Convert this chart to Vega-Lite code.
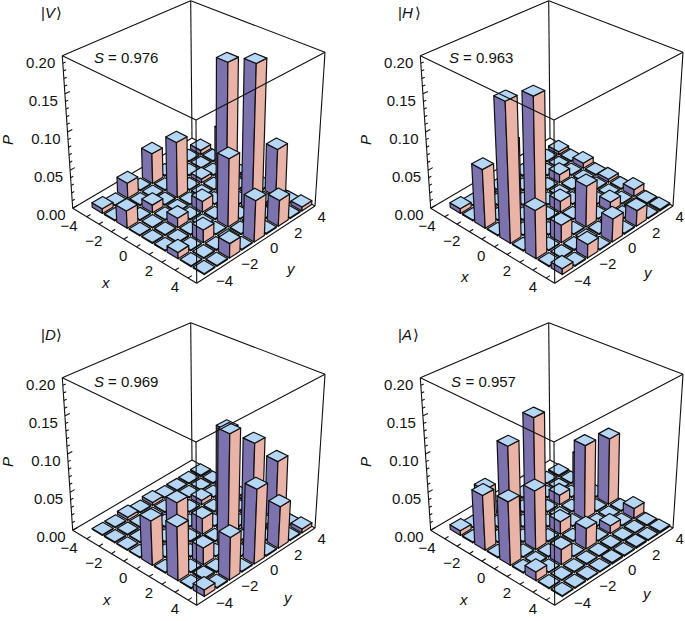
{"$schema":"https://vega.github.io/schema/vega-lite/v6.json","width":685,"height":621,"padding":0,"autosize":{"type":"none"},"background":"white","view":{"stroke":null},
"config":{"text":{"font":"Liberation Sans","fontSize":15,"color":"#111111"}},
"datasets":{
"bars":[
{"panel":"V","x":-4,"y":4,"p":0.006},{"panel":"V","x":-4,"y":3,"p":0.001},{"panel":"V","x":-4,"y":2,"p":0.001},{"panel":"V","x":-4,"y":1,"p":0.001},{"panel":"V","x":-4,"y":0,"p":0.04},{"panel":"V","x":-4,"y":-1,"p":0.001},{"panel":"V","x":-4,"y":-2,"p":0.02},{"panel":"V","x":-4,"y":-3,"p":0.001},{"panel":"V","x":-4,"y":-4,"p":0.006},
{"panel":"V","x":-3,"y":4,"p":0.001},{"panel":"V","x":-3,"y":3,"p":0.001},{"panel":"V","x":-3,"y":2,"p":0.001},{"panel":"V","x":-3,"y":1,"p":0.001},{"panel":"V","x":-3,"y":0,"p":0.001},{"panel":"V","x":-3,"y":-1,"p":0.001},{"panel":"V","x":-3,"y":-2,"p":0.001},{"panel":"V","x":-3,"y":-3,"p":0.001},{"panel":"V","x":-3,"y":-4,"p":0.001},
{"panel":"V","x":-2,"y":4,"p":0.05},{"panel":"V","x":-2,"y":3,"p":0.001},{"panel":"V","x":-2,"y":2,"p":0.005},{"panel":"V","x":-2,"y":1,"p":0.001},{"panel":"V","x":-2,"y":0,"p":0.073},{"panel":"V","x":-2,"y":-1,"p":0.001},{"panel":"V","x":-2,"y":-2,"p":0.01},{"panel":"V","x":-2,"y":-3,"p":0.001},{"panel":"V","x":-2,"y":-4,"p":0.022},
{"panel":"V","x":-1,"y":4,"p":0.001},{"panel":"V","x":-1,"y":3,"p":0.001},{"panel":"V","x":-1,"y":2,"p":0.001},{"panel":"V","x":-1,"y":1,"p":0.001},{"panel":"V","x":-1,"y":0,"p":0.001},{"panel":"V","x":-1,"y":-1,"p":0.001},{"panel":"V","x":-1,"y":-2,"p":0.001},{"panel":"V","x":-1,"y":-3,"p":0.001},{"panel":"V","x":-1,"y":-4,"p":0.001},
{"panel":"V","x":0,"y":4,"p":0.004},{"panel":"V","x":0,"y":3,"p":0.001},{"panel":"V","x":0,"y":2,"p":0.178},{"panel":"V","x":0,"y":1,"p":0.001},{"panel":"V","x":0,"y":0,"p":0.014},{"panel":"V","x":0,"y":-1,"p":0.001},{"panel":"V","x":0,"y":-2,"p":0.012},{"panel":"V","x":0,"y":-3,"p":0.001},{"panel":"V","x":0,"y":-4,"p":0.001},
{"panel":"V","x":1,"y":4,"p":0.001},{"panel":"V","x":1,"y":3,"p":0.001},{"panel":"V","x":1,"y":2,"p":0.001},{"panel":"V","x":1,"y":1,"p":0.001},{"panel":"V","x":1,"y":0,"p":0.001},{"panel":"V","x":1,"y":-1,"p":0.001},{"panel":"V","x":1,"y":-2,"p":0.001},{"panel":"V","x":1,"y":-3,"p":0.001},{"panel":"V","x":1,"y":-4,"p":0.001},
{"panel":"V","x":2,"y":4,"p":0.062},{"panel":"V","x":2,"y":3,"p":0.001},{"panel":"V","x":2,"y":2,"p":0.192},{"panel":"V","x":2,"y":1,"p":0.001},{"panel":"V","x":2,"y":0,"p":0.087},{"panel":"V","x":2,"y":-1,"p":0.001},{"panel":"V","x":2,"y":-2,"p":0.016},{"panel":"V","x":2,"y":-3,"p":0.001},{"panel":"V","x":2,"y":-4,"p":0.008},
{"panel":"V","x":3,"y":4,"p":0.001},{"panel":"V","x":3,"y":3,"p":0.001},{"panel":"V","x":3,"y":2,"p":0.001},{"panel":"V","x":3,"y":1,"p":0.001},{"panel":"V","x":3,"y":0,"p":0.001},{"panel":"V","x":3,"y":-1,"p":0.001},{"panel":"V","x":3,"y":-2,"p":0.001},{"panel":"V","x":3,"y":-3,"p":0.001},{"panel":"V","x":3,"y":-4,"p":0.001},
{"panel":"V","x":4,"y":4,"p":0.005},{"panel":"V","x":4,"y":3,"p":0.001},{"panel":"V","x":4,"y":2,"p":0.033},{"panel":"V","x":4,"y":1,"p":0.001},{"panel":"V","x":4,"y":0,"p":0.052},{"panel":"V","x":4,"y":-1,"p":0.001},{"panel":"V","x":4,"y":-2,"p":0.018},{"panel":"V","x":4,"y":-3,"p":0.001},{"panel":"V","x":4,"y":-4,"p":0.001},
{"panel":"H","x":-4,"y":4,"p":0.004},{"panel":"H","x":-4,"y":3,"p":0.001},{"panel":"H","x":-4,"y":2,"p":0.001},{"panel":"H","x":-4,"y":1,"p":0.001},{"panel":"H","x":-4,"y":0,"p":0.001},{"panel":"H","x":-4,"y":-1,"p":0.001},{"panel":"H","x":-4,"y":-2,"p":0.001},{"panel":"H","x":-4,"y":-3,"p":0.001},{"panel":"H","x":-4,"y":-4,"p":0.006},
{"panel":"H","x":-3,"y":4,"p":0.001},{"panel":"H","x":-3,"y":3,"p":0.001},{"panel":"H","x":-3,"y":2,"p":0.001},{"panel":"H","x":-3,"y":1,"p":0.001},{"panel":"H","x":-3,"y":0,"p":0.001},{"panel":"H","x":-3,"y":-1,"p":0.001},{"panel":"H","x":-3,"y":-2,"p":0.001},{"panel":"H","x":-3,"y":-3,"p":0.001},{"panel":"H","x":-3,"y":-4,"p":0.001},
{"panel":"H","x":-2,"y":4,"p":0.007},{"panel":"H","x":-2,"y":3,"p":0.001},{"panel":"H","x":-2,"y":2,"p":0.011},{"panel":"H","x":-2,"y":1,"p":0.001},{"panel":"H","x":-2,"y":0,"p":0.001},{"panel":"H","x":-2,"y":-1,"p":0.001},{"panel":"H","x":-2,"y":-2,"p":0.09},{"panel":"H","x":-2,"y":-3,"p":0.001},{"panel":"H","x":-2,"y":-4,"p":0.075},
{"panel":"H","x":-1,"y":4,"p":0.001},{"panel":"H","x":-1,"y":3,"p":0.001},{"panel":"H","x":-1,"y":2,"p":0.001},{"panel":"H","x":-1,"y":1,"p":0.001},{"panel":"H","x":-1,"y":0,"p":0.001},{"panel":"H","x":-1,"y":-1,"p":0.001},{"panel":"H","x":-1,"y":-2,"p":0.001},{"panel":"H","x":-1,"y":-3,"p":0.001},{"panel":"H","x":-1,"y":-4,"p":0.001},
{"panel":"H","x":0,"y":4,"p":0.004},{"panel":"H","x":0,"y":3,"p":0.001},{"panel":"H","x":0,"y":2,"p":0.001},{"panel":"H","x":0,"y":1,"p":0.001},{"panel":"H","x":0,"y":0,"p":0.014},{"panel":"H","x":0,"y":-1,"p":0.001},{"panel":"H","x":0,"y":-2,"p":0.168},{"panel":"H","x":0,"y":-3,"p":0.001},{"panel":"H","x":0,"y":-4,"p":0.179},
{"panel":"H","x":1,"y":4,"p":0.001},{"panel":"H","x":1,"y":3,"p":0.001},{"panel":"H","x":1,"y":2,"p":0.001},{"panel":"H","x":1,"y":1,"p":0.001},{"panel":"H","x":1,"y":0,"p":0.001},{"panel":"H","x":1,"y":-1,"p":0.001},{"panel":"H","x":1,"y":-2,"p":0.001},{"panel":"H","x":1,"y":-3,"p":0.001},{"panel":"H","x":1,"y":-4,"p":0.001},
{"panel":"H","x":2,"y":4,"p":0.009},{"panel":"H","x":2,"y":3,"p":0.001},{"panel":"H","x":2,"y":2,"p":0.012},{"panel":"H","x":2,"y":1,"p":0.001},{"panel":"H","x":2,"y":0,"p":0.052},{"panel":"H","x":2,"y":-1,"p":0.001},{"panel":"H","x":2,"y":-2,"p":0.022},{"panel":"H","x":2,"y":-3,"p":0.001},{"panel":"H","x":2,"y":-4,"p":0.06},
{"panel":"H","x":3,"y":4,"p":0.001},{"panel":"H","x":3,"y":3,"p":0.001},{"panel":"H","x":3,"y":2,"p":0.001},{"panel":"H","x":3,"y":1,"p":0.001},{"panel":"H","x":3,"y":0,"p":0.001},{"panel":"H","x":3,"y":-1,"p":0.001},{"panel":"H","x":3,"y":-2,"p":0.001},{"panel":"H","x":3,"y":-3,"p":0.001},{"panel":"H","x":3,"y":-4,"p":0.001},
{"panel":"H","x":4,"y":4,"p":0.002},{"panel":"H","x":4,"y":3,"p":0.001},{"panel":"H","x":4,"y":2,"p":0.02},{"panel":"H","x":4,"y":1,"p":0.001},{"panel":"H","x":4,"y":0,"p":0.029},{"panel":"H","x":4,"y":-1,"p":0.001},{"panel":"H","x":4,"y":-2,"p":0.017},{"panel":"H","x":4,"y":-3,"p":0.001},{"panel":"H","x":4,"y":-4,"p":0.007},
{"panel":"D","x":-4,"y":4,"p":0.002},{"panel":"D","x":-4,"y":3,"p":0.001},{"panel":"D","x":-4,"y":2,"p":0.001},{"panel":"D","x":-4,"y":1,"p":0.001},{"panel":"D","x":-4,"y":0,"p":0.004},{"panel":"D","x":-4,"y":-1,"p":0.001},{"panel":"D","x":-4,"y":-2,"p":0.004},{"panel":"D","x":-4,"y":-3,"p":0.001},{"panel":"D","x":-4,"y":-4,"p":0.001},
{"panel":"D","x":-3,"y":4,"p":0.001},{"panel":"D","x":-3,"y":3,"p":0.001},{"panel":"D","x":-3,"y":2,"p":0.001},{"panel":"D","x":-3,"y":1,"p":0.001},{"panel":"D","x":-3,"y":0,"p":0.001},{"panel":"D","x":-3,"y":-1,"p":0.001},{"panel":"D","x":-3,"y":-2,"p":0.001},{"panel":"D","x":-3,"y":-3,"p":0.001},{"panel":"D","x":-3,"y":-4,"p":0.001},
{"panel":"D","x":-2,"y":4,"p":0.001},{"panel":"D","x":-2,"y":3,"p":0.001},{"panel":"D","x":-2,"y":2,"p":0.006},{"panel":"D","x":-2,"y":1,"p":0.001},{"panel":"D","x":-2,"y":0,"p":0.002},{"panel":"D","x":-2,"y":-1,"p":0.001},{"panel":"D","x":-2,"y":-2,"p":0.001},{"panel":"D","x":-2,"y":-3,"p":0.001},{"panel":"D","x":-2,"y":-4,"p":0.001},
{"panel":"D","x":-1,"y":4,"p":0.001},{"panel":"D","x":-1,"y":3,"p":0.001},{"panel":"D","x":-1,"y":2,"p":0.001},{"panel":"D","x":-1,"y":1,"p":0.001},{"panel":"D","x":-1,"y":0,"p":0.001},{"panel":"D","x":-1,"y":-1,"p":0.001},{"panel":"D","x":-1,"y":-2,"p":0.001},{"panel":"D","x":-1,"y":-3,"p":0.001},{"panel":"D","x":-1,"y":-4,"p":0.001},
{"panel":"D","x":0,"y":4,"p":0.001},{"panel":"D","x":0,"y":3,"p":0.001},{"panel":"D","x":0,"y":2,"p":0.117},{"panel":"D","x":0,"y":1,"p":0.001},{"panel":"D","x":0,"y":0,"p":0.02},{"panel":"D","x":0,"y":-1,"p":0.001},{"panel":"D","x":0,"y":-2,"p":0.06},{"panel":"D","x":0,"y":-3,"p":0.001},{"panel":"D","x":0,"y":-4,"p":0.056},
{"panel":"D","x":1,"y":4,"p":0.001},{"panel":"D","x":1,"y":3,"p":0.001},{"panel":"D","x":1,"y":2,"p":0.001},{"panel":"D","x":1,"y":1,"p":0.001},{"panel":"D","x":1,"y":0,"p":0.001},{"panel":"D","x":1,"y":-1,"p":0.001},{"panel":"D","x":1,"y":-2,"p":0.001},{"panel":"D","x":1,"y":-3,"p":0.001},{"panel":"D","x":1,"y":-4,"p":0.001},
{"panel":"D","x":2,"y":4,"p":0.075},{"panel":"D","x":2,"y":3,"p":0.001},{"panel":"D","x":2,"y":2,"p":0.117},{"panel":"D","x":2,"y":1,"p":0.001},{"panel":"D","x":2,"y":0,"p":0.147},{"panel":"D","x":2,"y":-1,"p":0.001},{"panel":"D","x":2,"y":-2,"p":0.021},{"panel":"D","x":2,"y":-3,"p":0.001},{"panel":"D","x":2,"y":-4,"p":0.067},
{"panel":"D","x":3,"y":4,"p":0.001},{"panel":"D","x":3,"y":3,"p":0.001},{"panel":"D","x":3,"y":2,"p":0.001},{"panel":"D","x":3,"y":1,"p":0.001},{"panel":"D","x":3,"y":0,"p":0.001},{"panel":"D","x":3,"y":-1,"p":0.001},{"panel":"D","x":3,"y":-2,"p":0.001},{"panel":"D","x":3,"y":-3,"p":0.002},{"panel":"D","x":3,"y":-4,"p":0.001},
{"panel":"D","x":4,"y":4,"p":0.005},{"panel":"D","x":4,"y":3,"p":0.001},{"panel":"D","x":4,"y":2,"p":0.053},{"panel":"D","x":4,"y":1,"p":0.001},{"panel":"D","x":4,"y":0,"p":0.094},{"panel":"D","x":4,"y":-1,"p":0.001},{"panel":"D","x":4,"y":-2,"p":0.053},{"panel":"D","x":4,"y":-3,"p":0.001},{"panel":"D","x":4,"y":-4,"p":0.008},
{"panel":"A","x":-4,"y":4,"p":0.002},{"panel":"A","x":-4,"y":3,"p":0.001},{"panel":"A","x":-4,"y":2,"p":0.001},{"panel":"A","x":-4,"y":1,"p":0.001},{"panel":"A","x":-4,"y":0,"p":0.001},{"panel":"A","x":-4,"y":-1,"p":0.001},{"panel":"A","x":-4,"y":-2,"p":0.04},{"panel":"A","x":-4,"y":-3,"p":0.001},{"panel":"A","x":-4,"y":-4,"p":0.006},
{"panel":"A","x":-3,"y":4,"p":0.001},{"panel":"A","x":-3,"y":3,"p":0.001},{"panel":"A","x":-3,"y":2,"p":0.001},{"panel":"A","x":-3,"y":1,"p":0.001},{"panel":"A","x":-3,"y":0,"p":0.001},{"panel":"A","x":-3,"y":-1,"p":0.001},{"panel":"A","x":-3,"y":-2,"p":0.001},{"panel":"A","x":-3,"y":-3,"p":0.001},{"panel":"A","x":-3,"y":-4,"p":0.001},
{"panel":"A","x":-2,"y":4,"p":0.045},{"panel":"A","x":-2,"y":3,"p":0.001},{"panel":"A","x":-2,"y":2,"p":0.013},{"panel":"A","x":-2,"y":1,"p":0.001},{"panel":"A","x":-2,"y":0,"p":0.135},{"panel":"A","x":-2,"y":-1,"p":0.001},{"panel":"A","x":-2,"y":-2,"p":0.115},{"panel":"A","x":-2,"y":-3,"p":0.001},{"panel":"A","x":-2,"y":-4,"p":0.07},
{"panel":"A","x":-1,"y":4,"p":0.001},{"panel":"A","x":-1,"y":3,"p":0.001},{"panel":"A","x":-1,"y":2,"p":0.001},{"panel":"A","x":-1,"y":1,"p":0.001},{"panel":"A","x":-1,"y":0,"p":0.001},{"panel":"A","x":-1,"y":-1,"p":0.001},{"panel":"A","x":-1,"y":-2,"p":0.001},{"panel":"A","x":-1,"y":-3,"p":0.001},{"panel":"A","x":-1,"y":-4,"p":0.001},
{"panel":"A","x":0,"y":4,"p":0.088},{"panel":"A","x":0,"y":3,"p":0.001},{"panel":"A","x":0,"y":2,"p":0.097},{"panel":"A","x":0,"y":1,"p":0.001},{"panel":"A","x":0,"y":0,"p":0.016},{"panel":"A","x":0,"y":-1,"p":0.001},{"panel":"A","x":0,"y":-2,"p":0.075},{"panel":"A","x":0,"y":-3,"p":0.001},{"panel":"A","x":0,"y":-4,"p":0.08},
{"panel":"A","x":1,"y":4,"p":0.001},{"panel":"A","x":1,"y":3,"p":0.001},{"panel":"A","x":1,"y":2,"p":0.001},{"panel":"A","x":1,"y":1,"p":0.001},{"panel":"A","x":1,"y":0,"p":0.001},{"panel":"A","x":1,"y":-1,"p":0.001},{"panel":"A","x":1,"y":-2,"p":0.001},{"panel":"A","x":1,"y":-3,"p":0.001},{"panel":"A","x":1,"y":-4,"p":0.001},
{"panel":"A","x":2,"y":4,"p":0.013},{"panel":"A","x":2,"y":3,"p":0.001},{"panel":"A","x":2,"y":2,"p":0.01},{"panel":"A","x":2,"y":1,"p":0.001},{"panel":"A","x":2,"y":0,"p":0.026},{"panel":"A","x":2,"y":-1,"p":0.001},{"panel":"A","x":2,"y":-2,"p":0.019},{"panel":"A","x":2,"y":-3,"p":0.001},{"panel":"A","x":2,"y":-4,"p":0.011},
{"panel":"A","x":3,"y":4,"p":0.001},{"panel":"A","x":3,"y":3,"p":0.001},{"panel":"A","x":3,"y":2,"p":0.001},{"panel":"A","x":3,"y":1,"p":0.001},{"panel":"A","x":3,"y":0,"p":0.001},{"panel":"A","x":3,"y":-1,"p":0.001},{"panel":"A","x":3,"y":-2,"p":0.001},{"panel":"A","x":3,"y":-3,"p":0.001},{"panel":"A","x":3,"y":-4,"p":0.001},
{"panel":"A","x":4,"y":4,"p":0.002},{"panel":"A","x":4,"y":3,"p":0.001},{"panel":"A","x":4,"y":2,"p":0.002},{"panel":"A","x":4,"y":1,"p":0.001},{"panel":"A","x":4,"y":0,"p":0.002},{"panel":"A","x":4,"y":-1,"p":0.001},{"panel":"A","x":4,"y":-2,"p":0.001},{"panel":"A","x":4,"y":-3,"p":0.001},{"panel":"A","x":4,"y":-4,"p":0.001}
],
"points":[
{"kind":"back","id":"b1","x":-5.15,"y":-5.25,"p":0},{"kind":"back","id":"b1","x":-5.15,"y":4.45,"p":0},
{"kind":"back","id":"b2","x":-5.15,"y":4.45,"p":0},{"kind":"back","id":"b2","x":4.65,"y":4.45,"p":0},
{"kind":"back","id":"b3","x":-5.15,"y":4.45,"p":0},{"kind":"back","id":"b3","x":-5.15,"y":4.45,"p":0.2},
{"kind":"back","id":"b4","x":-5.15,"y":-5.25,"p":0},{"kind":"back","id":"b4","x":-5.15,"y":-5.25,"p":0.2},
{"kind":"back","id":"b5","x":4.65,"y":4.45,"p":0},{"kind":"back","id":"b5","x":4.65,"y":4.45,"p":0.2},
{"kind":"back","id":"b6","x":-5.15,"y":-5.25,"p":0.2},{"kind":"back","id":"b6","x":-5.15,"y":4.45,"p":0.2},
{"kind":"back","id":"b7","x":-5.15,"y":4.45,"p":0.2},{"kind":"back","id":"b7","x":4.65,"y":4.45,"p":0.2},
{"kind":"front","id":"f1","x":4.65,"y":-5.25,"p":0},{"kind":"front","id":"f1","x":4.65,"y":-5.25,"p":0.2},
{"kind":"front","id":"f2","x":-5.15,"y":-5.25,"p":0.2},{"kind":"front","id":"f2","x":4.65,"y":-5.25,"p":0.2},
{"kind":"front","id":"f3","x":4.65,"y":-5.25,"p":0.2},{"kind":"front","id":"f3","x":4.65,"y":4.45,"p":0.2},
{"kind":"front","id":"f4","x":-5.15,"y":-5.25,"p":0},{"kind":"front","id":"f4","x":4.65,"y":-5.25,"p":0},
{"kind":"front","id":"f5","x":4.65,"y":-5.25,"p":0},{"kind":"front","id":"f5","x":4.65,"y":4.45,"p":0},
{"kind":"front","id":"x-4","x":-4,"y":-5.25,"p":0},{"kind":"front","id":"x-4","x":-4,"y":-4.95,"p":0},
{"kind":"front","id":"x-3","x":-3,"y":-5.25,"p":0},{"kind":"front","id":"x-3","x":-3,"y":-4.95,"p":0},
{"kind":"front","id":"x-2","x":-2,"y":-5.25,"p":0},{"kind":"front","id":"x-2","x":-2,"y":-4.95,"p":0},
{"kind":"front","id":"x-1","x":-1,"y":-5.25,"p":0},{"kind":"front","id":"x-1","x":-1,"y":-4.95,"p":0},
{"kind":"front","id":"x0","x":0,"y":-5.25,"p":0},{"kind":"front","id":"x0","x":0,"y":-4.95,"p":0},
{"kind":"front","id":"x1","x":1,"y":-5.25,"p":0},{"kind":"front","id":"x1","x":1,"y":-4.95,"p":0},
{"kind":"front","id":"x2","x":2,"y":-5.25,"p":0},{"kind":"front","id":"x2","x":2,"y":-4.95,"p":0},
{"kind":"front","id":"x3","x":3,"y":-5.25,"p":0},{"kind":"front","id":"x3","x":3,"y":-4.95,"p":0},
{"kind":"front","id":"x4","x":4,"y":-5.25,"p":0},{"kind":"front","id":"x4","x":4,"y":-4.95,"p":0},
{"kind":"back","id":"p00","x":-5.15,"y":-5.25,"p":0},{"kind":"back","id":"p00","x":-5.15,"y":-4.9,"p":0},
{"kind":"back","id":"p01","x":-5.15,"y":-5.25,"p":0.01},{"kind":"back","id":"p01","x":-5.15,"y":-5.05,"p":0.01},
{"kind":"back","id":"p02","x":-5.15,"y":-5.25,"p":0.02},{"kind":"back","id":"p02","x":-5.15,"y":-5.05,"p":0.02},
{"kind":"back","id":"p03","x":-5.15,"y":-5.25,"p":0.03},{"kind":"back","id":"p03","x":-5.15,"y":-5.05,"p":0.03},
{"kind":"back","id":"p04","x":-5.15,"y":-5.25,"p":0.04},{"kind":"back","id":"p04","x":-5.15,"y":-5.05,"p":0.04},
{"kind":"back","id":"p05","x":-5.15,"y":-5.25,"p":0.05},{"kind":"back","id":"p05","x":-5.15,"y":-4.9,"p":0.05},
{"kind":"back","id":"p06","x":-5.15,"y":-5.25,"p":0.06},{"kind":"back","id":"p06","x":-5.15,"y":-5.05,"p":0.06},
{"kind":"back","id":"p07","x":-5.15,"y":-5.25,"p":0.07},{"kind":"back","id":"p07","x":-5.15,"y":-5.05,"p":0.07},
{"kind":"back","id":"p08","x":-5.15,"y":-5.25,"p":0.08},{"kind":"back","id":"p08","x":-5.15,"y":-5.05,"p":0.08},
{"kind":"back","id":"p09","x":-5.15,"y":-5.25,"p":0.09},{"kind":"back","id":"p09","x":-5.15,"y":-5.05,"p":0.09},
{"kind":"back","id":"p10","x":-5.15,"y":-5.25,"p":0.1},{"kind":"back","id":"p10","x":-5.15,"y":-4.9,"p":0.1},
{"kind":"back","id":"p11","x":-5.15,"y":-5.25,"p":0.11},{"kind":"back","id":"p11","x":-5.15,"y":-5.05,"p":0.11},
{"kind":"back","id":"p12","x":-5.15,"y":-5.25,"p":0.12},{"kind":"back","id":"p12","x":-5.15,"y":-5.05,"p":0.12},
{"kind":"back","id":"p13","x":-5.15,"y":-5.25,"p":0.13},{"kind":"back","id":"p13","x":-5.15,"y":-5.05,"p":0.13},
{"kind":"back","id":"p14","x":-5.15,"y":-5.25,"p":0.14},{"kind":"back","id":"p14","x":-5.15,"y":-5.05,"p":0.14},
{"kind":"back","id":"p15","x":-5.15,"y":-5.25,"p":0.15},{"kind":"back","id":"p15","x":-5.15,"y":-4.9,"p":0.15},
{"kind":"back","id":"p16","x":-5.15,"y":-5.25,"p":0.16},{"kind":"back","id":"p16","x":-5.15,"y":-5.05,"p":0.16},
{"kind":"back","id":"p17","x":-5.15,"y":-5.25,"p":0.17},{"kind":"back","id":"p17","x":-5.15,"y":-5.05,"p":0.17},
{"kind":"back","id":"p18","x":-5.15,"y":-5.25,"p":0.18},{"kind":"back","id":"p18","x":-5.15,"y":-5.05,"p":0.18},
{"kind":"back","id":"p19","x":-5.15,"y":-5.25,"p":0.19},{"kind":"back","id":"p19","x":-5.15,"y":-5.05,"p":0.19},
{"kind":"pl","label":"0.00","x":-5.15,"y":-5.25,"p":0},{"kind":"pl","label":"0.05","x":-5.15,"y":-5.25,"p":0.05},{"kind":"pl","label":"0.10","x":-5.15,"y":-5.25,"p":0.1},{"kind":"pl","label":"0.15","x":-5.15,"y":-5.25,"p":0.15},{"kind":"pl","label":"0.20","x":-5.15,"y":-5.25,"p":0.2},
{"kind":"xl","label":"−4","x":-4,"y":-5.25,"p":0},{"kind":"xl","label":"−2","x":-2,"y":-5.25,"p":0},{"kind":"xl","label":"0","x":0,"y":-5.25,"p":0},{"kind":"xl","label":"2","x":2,"y":-5.25,"p":0},{"kind":"xl","label":"4","x":4,"y":-5.25,"p":0},
{"kind":"yl","label":"−4","x":4.65,"y":-4,"p":0},{"kind":"yl","label":"−2","x":4.65,"y":-2,"p":0},{"kind":"yl","label":"0","x":4.65,"y":0,"p":0},{"kind":"yl","label":"2","x":4.65,"y":2,"p":0},{"kind":"yl","label":"4","x":4.65,"y":4,"p":0}
],
"notes":[
{"sx":94,"sy":58,"txt":"S","it":true},{"sx":108,"sy":58,"txt":"= 0.976","it":false},
{"sx":449,"sy":58,"txt":"S","it":true},{"sx":463,"sy":58,"txt":"= 0.963","it":false},
{"sx":94,"sy":382,"txt":"S","it":true},{"sx":108,"sy":382,"txt":"= 0.969","it":false},
{"sx":451,"sy":382,"txt":"S","it":true},{"sx":465.5,"sy":382,"txt":"= 0.957","it":false},
{"sx":41,"sy":13,"txt":"|","it":false},{"sx":45,"sy":13,"txt":"V","it":true},{"sx":55.5,"sy":13,"txt":"⟩","it":false},
{"sx":398,"sy":13,"txt":"|","it":false},{"sx":402,"sy":13,"txt":"H","it":true},{"sx":414.5,"sy":13,"txt":"⟩","it":false},
{"sx":41,"sy":335,"txt":"|","it":false},{"sx":45,"sy":335,"txt":"D","it":true},{"sx":56,"sy":335,"txt":"⟩","it":false},
{"sx":398,"sy":335,"txt":"|","it":false},{"sx":402,"sy":335,"txt":"A","it":true},{"sx":413,"sy":335,"txt":"⟩","it":false},
{"sx":102,"sy":283,"txt":"x","it":true},{"sx":287,"sy":269,"txt":"y","it":true},
{"sx":461,"sy":277,"txt":"x","it":true},{"sx":644,"sy":273,"txt":"y","it":true},
{"sx":103,"sy":600,"txt":"x","it":true},{"sx":284,"sy":598,"txt":"y","it":true},
{"sx":460,"sy":600,"txt":"x","it":true},{"sx":643,"sy":594,"txt":"y","it":true}
],
"ptitles":[{"sx":8,"sy":140,"txt":"P"},{"sx":366,"sy":140,"txt":"P"},{"sx":8,"sy":462,"txt":"P"},{"sx":366,"sy":462,"txt":"P"}]
},
"data":{"name":"points"},
"transform":[
{"calculate":"['V','H','D','A']","as":"panel"},{"flatten":["panel"]},
{"calculate":"(datum.x+5.15)/9.8","as":"u"},{"calculate":"(datum.y+5.25)/9.7","as":"v"},{"calculate":"datum.p/0.2","as":"t"},
{"calculate":"datum.panel=='H'||datum.panel=='A'?358:0","as":"ox"},{"calculate":"datum.panel=='D'||datum.panel=='A'?322:0","as":"oy"},
{"calculate":"datum.ox+(115.11*datum.u+129.2*datum.v+72.7)/(1-0.04518*datum.u+0.05158*datum.v)*(1-datum.t)+(112.09*datum.u+147.75*datum.v+62.3)/(1-0.11027*datum.u+0.10145*datum.v)*datum.t","as":"sx"},
{"calculate":"datum.oy+(62.2*datum.u-63.18*datum.v+208.3)/(1-0.04518*datum.u+0.05158*datum.v)*(1-datum.t)+(51.07*datum.u-54.93*datum.v+55.7)/(1-0.11027*datum.u+0.10145*datum.v)*datum.t","as":"sy"}
],
"layer":[
{"transform":[{"filter":"datum.kind=='back'"}],"mark":{"type":"line","color":"#111111","strokeWidth":1.1},
 "encoding":{"x":{"field":"sx","type":"quantitative","scale":{"domain":[0,685],"nice":false,"zero":false},"axis":null},"y":{"field":"sy","type":"quantitative","scale":{"domain":[621,0],"nice":false,"zero":false},"axis":null},"detail":[{"field":"id"},{"field":"panel"}]}},
{"data":{"name":"bars"},
 "transform":[
 {"calculate":"datum.panel=='H'||datum.panel=='A'?358:0","as":"ox"},{"calculate":"datum.panel=='D'||datum.panel=='A'?322:0","as":"oy"},
 {"calculate":"(datum.x-0.42+5.15)/9.8","as":"a"},{"calculate":"(datum.x+0.42+5.15)/9.8","as":"b"},{"calculate":"(datum.y-0.42+5.25)/9.7","as":"c"},{"calculate":"(datum.y+0.42+5.25)/9.7","as":"d"},{"calculate":"datum.p/0.2","as":"t"},
 {"calculate":"datum.ox+(115.11*datum.a+129.2*datum.c+72.7)/(1-0.04518*datum.a+0.05158*datum.c)","as":"Lbx"},
 {"calculate":"datum.oy+(62.2*datum.a-63.18*datum.c+208.3)/(1-0.04518*datum.a+0.05158*datum.c)","as":"Lby"},
 {"calculate":"datum.ox+(115.11*datum.b+129.2*datum.c+72.7)/(1-0.04518*datum.b+0.05158*datum.c)","as":"Nbx"},
 {"calculate":"datum.oy+(62.2*datum.b-63.18*datum.c+208.3)/(1-0.04518*datum.b+0.05158*datum.c)","as":"Nby"},
 {"calculate":"datum.ox+(115.11*datum.b+129.2*datum.d+72.7)/(1-0.04518*datum.b+0.05158*datum.d)","as":"Rbx"},
 {"calculate":"datum.oy+(62.2*datum.b-63.18*datum.d+208.3)/(1-0.04518*datum.b+0.05158*datum.d)","as":"Rby"},
 {"calculate":"datum.ox+(115.11*datum.a+129.2*datum.d+72.7)/(1-0.04518*datum.a+0.05158*datum.d)","as":"Fbx"},
 {"calculate":"datum.oy+(62.2*datum.a-63.18*datum.d+208.3)/(1-0.04518*datum.a+0.05158*datum.d)","as":"Fby"},
 {"calculate":"datum.ox+(112.09*datum.a+147.75*datum.c+62.3)/(1-0.11027*datum.a+0.10145*datum.c)","as":"Llx"},
 {"calculate":"datum.oy+(51.07*datum.a-54.93*datum.c+55.7)/(1-0.11027*datum.a+0.10145*datum.c)","as":"Lly"},
 {"calculate":"datum.ox+(112.09*datum.b+147.75*datum.c+62.3)/(1-0.11027*datum.b+0.10145*datum.c)","as":"Nlx"},
 {"calculate":"datum.oy+(51.07*datum.b-54.93*datum.c+55.7)/(1-0.11027*datum.b+0.10145*datum.c)","as":"Nly"},
 {"calculate":"datum.ox+(112.09*datum.b+147.75*datum.d+62.3)/(1-0.11027*datum.b+0.10145*datum.d)","as":"Rlx"},
 {"calculate":"datum.oy+(51.07*datum.b-54.93*datum.d+55.7)/(1-0.11027*datum.b+0.10145*datum.d)","as":"Rly"},
 {"calculate":"datum.ox+(112.09*datum.a+147.75*datum.d+62.3)/(1-0.11027*datum.a+0.10145*datum.d)","as":"Flx"},
 {"calculate":"datum.oy+(51.07*datum.a-54.93*datum.d+55.7)/(1-0.11027*datum.a+0.10145*datum.d)","as":"Fly"},
 {"calculate":"[datum.Lbx+(datum.Llx-datum.Lbx)*datum.t,datum.Lby+(datum.Lly-datum.Lby)*datum.t]","as":"LT"},
 {"calculate":"[datum.Nbx+(datum.Nlx-datum.Nbx)*datum.t,datum.Nby+(datum.Nly-datum.Nby)*datum.t]","as":"NT"},
 {"calculate":"[datum.Rbx+(datum.Rlx-datum.Rbx)*datum.t,datum.Rby+(datum.Rly-datum.Rby)*datum.t]","as":"RT"},
 {"calculate":"[datum.Fbx+(datum.Flx-datum.Fbx)*datum.t,datum.Fby+(datum.Fly-datum.Fby)*datum.t]","as":"FT"},
 {"calculate":"[datum.Lbx,datum.Lby]","as":"LB"},{"calculate":"[datum.Nbx,datum.Nby]","as":"NB"},{"calculate":"[datum.Rbx,datum.Rby]","as":"RB"},
 {"calculate":"['left','right','top']","as":"face"},{"flatten":["face"]},
 {"calculate":"datum.face=='left'?[datum.LB,datum.NB,datum.NT,datum.LT,datum.LB]:datum.face=='right'?[datum.NB,datum.RB,datum.RT,datum.NT,datum.NB]:[datum.LT,datum.NT,datum.RT,datum.FT,datum.LT]","as":"ring"},
 {"calculate":"{type:'Feature',properties:{},geometry:{type:'Polygon',coordinates:[datum.ring]}}","as":"geo"}
 ],
 "projection":{"type":"identity","scale":1,"translate":[0,0]},
 "mark":{"type":"geoshape","stroke":"#111111","strokeWidth":1.2,"strokeJoin":"round"},
 "encoding":{"shape":{"field":"geo","type":"geojson"},"color":{"field":"face","type":"nominal","scale":{"domain":["left","right","top"],"range":["#7B72AE","#EAB3A8","#B5D6F5"]},"legend":null}}},
{"transform":[{"filter":"datum.kind=='front'"}],"mark":{"type":"line","color":"#111111","strokeWidth":1.1},
 "encoding":{"x":{"field":"sx","type":"quantitative","scale":{"domain":[0,685],"nice":false,"zero":false},"axis":null},"y":{"field":"sy","type":"quantitative","scale":{"domain":[621,0],"nice":false,"zero":false},"axis":null},"detail":[{"field":"id"},{"field":"panel"}]}},
{"transform":[{"filter":"datum.kind=='pl'"}],"mark":{"type":"text","align":"right","baseline":"middle","dx":-7,"dy":7},
 "encoding":{"x":{"field":"sx","type":"quantitative","scale":{"domain":[0,685],"nice":false,"zero":false},"axis":null},"y":{"field":"sy","type":"quantitative","scale":{"domain":[621,0],"nice":false,"zero":false},"axis":null},"text":{"field":"label"}}},
{"transform":[{"filter":"datum.kind=='xl'"}],"mark":{"type":"text","align":"right","baseline":"middle","dx":-9,"dy":9},
 "encoding":{"x":{"field":"sx","type":"quantitative","scale":{"domain":[0,685],"nice":false,"zero":false},"axis":null},"y":{"field":"sy","type":"quantitative","scale":{"domain":[621,0],"nice":false,"zero":false},"axis":null},"text":{"field":"label"}}},
{"transform":[{"filter":"datum.kind=='yl'"}],"mark":{"type":"text","align":"center","baseline":"middle","dx":12,"dy":8},
 "encoding":{"x":{"field":"sx","type":"quantitative","scale":{"domain":[0,685],"nice":false,"zero":false},"axis":null},"y":{"field":"sy","type":"quantitative","scale":{"domain":[621,0],"nice":false,"zero":false},"axis":null},"text":{"field":"label"}}},
{"data":{"name":"notes"},"transform":[{"filter":"!datum.it"}],"mark":{"type":"text","align":"left","baseline":"middle"},
 "encoding":{"x":{"field":"sx","type":"quantitative","scale":{"domain":[0,685],"nice":false,"zero":false},"axis":null},"y":{"field":"sy","type":"quantitative","scale":{"domain":[621,0],"nice":false,"zero":false},"axis":null},"text":{"field":"txt"}}},
{"data":{"name":"notes"},"transform":[{"filter":"datum.it"}],"mark":{"type":"text","align":"left","baseline":"middle","fontStyle":"italic"},
 "encoding":{"x":{"field":"sx","type":"quantitative","scale":{"domain":[0,685],"nice":false,"zero":false},"axis":null},"y":{"field":"sy","type":"quantitative","scale":{"domain":[621,0],"nice":false,"zero":false},"axis":null},"text":{"field":"txt"}}},
{"data":{"name":"ptitles"},"mark":{"type":"text","align":"center","baseline":"middle","fontStyle":"italic","angle":270},
 "encoding":{"x":{"field":"sx","type":"quantitative","scale":{"domain":[0,685],"nice":false,"zero":false},"axis":null},"y":{"field":"sy","type":"quantitative","scale":{"domain":[621,0],"nice":false,"zero":false},"axis":null},"text":{"field":"txt"}}}
]}
